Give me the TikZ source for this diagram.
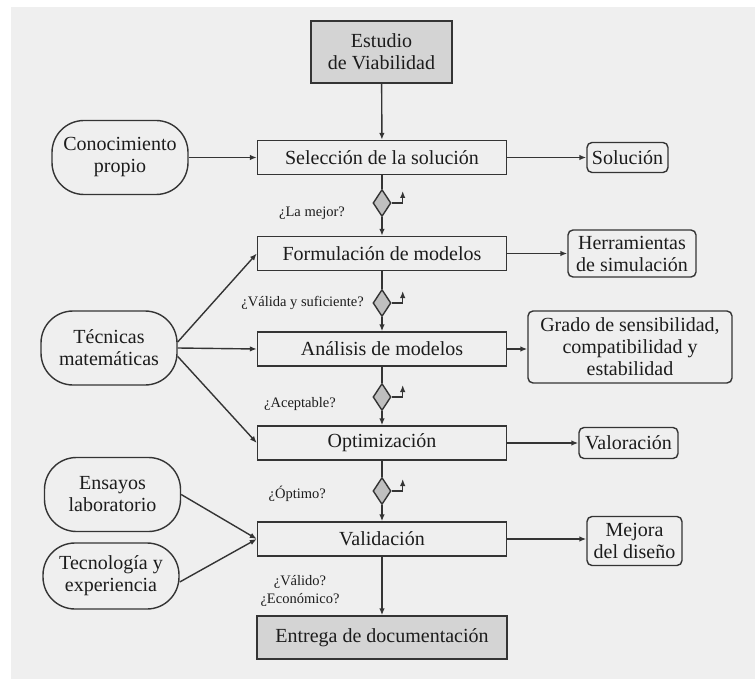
\documentclass[tikz,border=0pt]{standalone}
\usepackage{fontspec}
\setmainfont{Liberation Serif}
\usetikzlibrary{shapes.geometric,arrows.meta}
\definecolor{panel}{RGB}{239,239,239}
\definecolor{boxgray}{RGB}{212,212,212}
\definecolor{ink}{RGB}{52,52,52}
\definecolor{txt}{RGB}{28,28,28}
\tikzset{
  proc/.style={draw=ink, line width=1.4pt, minimum width=249pt, minimum height=34pt, inner sep=2pt, align=center, text=txt, font=\fontsize{20}{22}\selectfont},
  endbox/.style={proc, fill=boxgray},
  source/.style={draw=ink, line width=1.4pt, rounded corners=32pt, minimum width=136pt, minimum height=74pt, inner sep=2pt, align=center, text=txt, font=\fontsize{20}{22}\selectfont},
  result/.style={draw=ink, line width=1.4pt, rounded corners=5pt, inner sep=2pt, align=center, text=txt, font=\fontsize{20}{22}\selectfont},
  decision/.style={diamond, draw=ink, line width=1.4pt, fill=boxgray!90!black, inner sep=0pt, minimum width=18pt, minimum height=27pt},
  query/.style={inner sep=0pt, text=txt, align=center, font=\fontsize{14.5}{18}\selectfont},
  line/.style={draw=ink, line width=1.4pt},
  conn/.style={line, -{Latex[length=7pt,width=5.5pt]}}
}
\begin{document}
\begin{tikzpicture}[x=1pt,y=-1pt]
%Shape: background panel
\useasboundingbox (0,0) rectangle (755,679);
\fill[white] (0,0) rectangle (755,679);
\fill[panel] (11,7) rectangle (755,679);

%Main column
\node[endbox, minimum width=141pt, minimum height=62pt] (estudio) at (381.5,52) {Estudio\\de Viabilidad};
\node[proc] (seleccion) at (382,157.5) {Selección de la solución};
\node[proc] (formulacion) at (382,253.5) {Formulación de modelos};
\node[proc] (analisis) at (382,349) {Análisis de modelos};
\node[proc] (optimizacion) at (382,443) {Optimización};
\node[proc] (validacion) at (382,539) {Validación};
\node[endbox, minimum width=250pt, minimum height=43pt] (entrega) at (382,637.5) {Entrega de documentación};

%Decisions
\node[decision] (d1) at (382,203) {};
\node[decision] (d2) at (382,303) {};
\node[decision] (d3) at (382,397) {};
\node[decision] (d4) at (382,491) {};

%Inputs
\node[source] (conocimiento) at (120,157.5) {Conocimiento\\propio};
\node[source] (tecnicas) at (109,348) {Técnicas\\matemáticas};
\node[source] (ensayos) at (112.5,494.5) {Ensayos\\laboratorio};
\node[source, minimum height=66pt] (tecnologia) at (111,576) {Tecnología y\\experiencia};

%Outputs
\node[result, minimum width=81pt, minimum height=30pt] (solucion) at (627.5,157.5) {Solución};
\node[result, minimum width=128pt, minimum height=47pt] (herramientas) at (632,253.5) {Herramientas\\de simulación};
\node[result, minimum width=204pt, minimum height=72pt] (grado) at (630,347) {Grado de sensibilidad,\\compatibilidad y\\estabilidad};
\node[result, minimum width=99pt, minimum height=31pt] (valoracion) at (628.5,443) {Valoración};
\node[result, minimum width=95pt, minimum height=49pt] (mejora) at (634.5,541) {Mejora\\del diseño};

% Text Node
\node[query, anchor=east] (qmejor) at (345,213) {¿La mejor?};
\node[query, anchor=east] (qvalida) at (364,303) {¿Válida y suficiente?};
\node[query, anchor=east] (qacept) at (336,404) {¿Aceptable?};
\node[query, anchor=east] (qoptimo) at (326,494) {¿Óptimo?};
\node[query] (qvalido) at (300,591) {¿Válido?\\¿Económico?};

%Flow down the column
\draw[conn] (estudio) -- (seleccion);
\draw[line] (seleccion) -- (d1);
\draw[conn] (d1) -- (formulacion);
\draw[line] (formulacion) -- (d2);
\draw[conn] (d2) -- (analisis);
\draw[line] (analisis) -- (d3);
\draw[conn] (d3) -- (optimizacion);
\draw[line] (optimizacion) -- (d4);
\draw[conn] (d4) -- (validacion);
\draw[conn] (validacion) -- (entrega);
\foreach \d in {d1,d2,d3,d4}
  \draw[conn] (\d.east) -- ++(11,0) -- ++(0,-12);

%Inputs to the column
\draw[conn] (conocimiento.east) -- (seleccion.west);
\draw[conn] (tecnicas.5) -- (formulacion.west);
\draw[conn] (tecnicas.east) -- (analisis.west);
\draw[conn] (tecnicas.-7) -- (optimizacion.west);
\draw[conn] (ensayos.east) -- (validacion.west);
\draw[conn] (tecnologia.-5) -- (validacion.west);

%Outputs of the column
\draw[conn] (seleccion.east) -- (solucion.west);
\draw[conn] (formulacion.east) -- (herramientas.west);
\draw[conn] (analisis.east) -- (grado.west |- analisis.east);
\draw[conn] (optimizacion.east) -- (valoracion.west);
\draw[conn] (validacion.east) -- (mejora.west |- validacion.east);
\end{tikzpicture}
\end{document}
